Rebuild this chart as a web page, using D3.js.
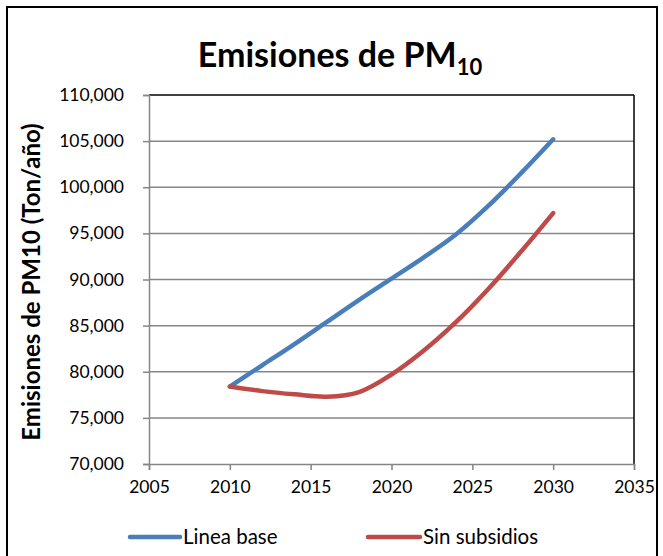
<!DOCTYPE html>
<html><head><meta charset="utf-8">
<script src="https://cdn.jsdelivr.net/npm/d3@7"></script>
<style>body{margin:0;background:#fff}svg{display:block}text{font-family:Lato,"Open Sans",sans-serif}</style>
</head><body>
<svg id="c" width="663" height="556"></svg>
<script>
const years = [2010, 2012, 2014, 2016, 2018, 2020, 2022, 2024, 2026, 2028, 2030];
const lineaBase = [78400, 80700, 83000, 85400, 87800, 90100, 92400, 94900, 98000, 101500, 105200];
const sinSubsidios = [78400, 77900, 77550, 77300, 77800, 79700, 82300, 85400, 89000, 93000, 97200];
const xTicks = [2005, 2010, 2015, 2020, 2025, 2030, 2035];
const yTicks = [70000, 75000, 80000, 85000, 90000, 95000, 100000, 105000, 110000];
const seriesNames = ["Linea base", "Sin subsidios"];
const colors = ["#4a7ebb", "#be4b48"];

const svg = d3.select("#c");
const L = 149, R = 634, T = 95, B = 464;
const x = d3.scaleLinear().domain([2005, 2035]).range([L, R]);
const y = d3.scaleLinear().domain([70000, 110000]).range([B, T]);

// outer border
svg.append("rect").attr("x", 7).attr("y", 7).attr("width", 650).attr("height", 560)
  .attr("fill", "none").attr("stroke", "#000").attr("stroke-width", 2);

// title
const title = svg.append("text").attr("x", 340).attr("y", 67).attr("text-anchor", "middle")
  .attr("font-size", 34).attr("font-weight", "bold").attr("fill", "#000");
title.append("tspan").text("Emisiones de PM");
title.append("tspan").attr("font-size", 22).attr("dy", 8).text("10");

// gridlines
svg.append("g").selectAll("line").data(yTicks.slice(1)).join("line")
  .attr("x1", L).attr("x2", R).attr("y1", d => y(d)).attr("y2", d => y(d))
  .attr("stroke", d => d === 110000 ? "#000" : "#868686").attr("stroke-width", 1.5);

// right border
svg.append("line").attr("x1", R).attr("x2", R).attr("y1", T).attr("y2", B).attr("stroke", "#000").attr("stroke-width", 1.5);

// axes
const yAxis = d3.axisLeft(y).tickValues(yTicks).tickSize(6).tickPadding(19).tickFormat(d3.format(","));
const gy = svg.append("g").attr("transform", `translate(${L},0)`).call(yAxis);
const xAxis = d3.axisBottom(x).tickValues(xTicks).tickSize(6).tickPadding(11).tickFormat(d3.format("d"));
const gx = svg.append("g").attr("transform", `translate(0,${B})`).call(xAxis);
[gy, gx].forEach(g => {
  g.select(".domain").attr("stroke", "#868686").attr("stroke-width", 1.5);
  g.selectAll(".tick line").attr("stroke", "#868686").attr("stroke-width", 1.5);
  g.selectAll(".tick text").attr("font-size", 17.5).attr("fill", "#000").attr("font-family", "Lato, 'Open Sans', sans-serif");
});

// y label
svg.append("text").attr("transform", "translate(40,282) rotate(-90)").attr("text-anchor", "middle")
  .attr("font-size", 24).attr("font-weight", "bold").attr("fill", "#000").text("Emisiones de PM10 (Ton/año)");

// lines
const line = d3.line().x((d, i) => x(years[i])).y(d => y(d)).curve(d3.curveCatmullRom.alpha(0.5));
[lineaBase, sinSubsidios].forEach((s, k) => {
  svg.append("path").attr("d", line(s)).attr("fill", "none").attr("stroke", colors[k])
    .attr("stroke-width", 4.5).attr("stroke-linecap", "round").attr("stroke-linejoin", "round");
});

// legend
const lg = [{x1: 130, x2: 180, tx: 183}, {x1: 368, x2: 420, tx: 423}];
lg.forEach((p, k) => {
  svg.append("line").attr("x1", p.x1).attr("x2", p.x2).attr("y1", 537).attr("y2", 537)
    .attr("stroke", colors[k]).attr("stroke-width", 4.5).attr("stroke-linecap", "round");
  svg.append("text").attr("x", p.tx).attr("y", 544).attr("font-size", 20.5).attr("fill", "#000").text(seriesNames[k]);
});
</script>
</body></html>
